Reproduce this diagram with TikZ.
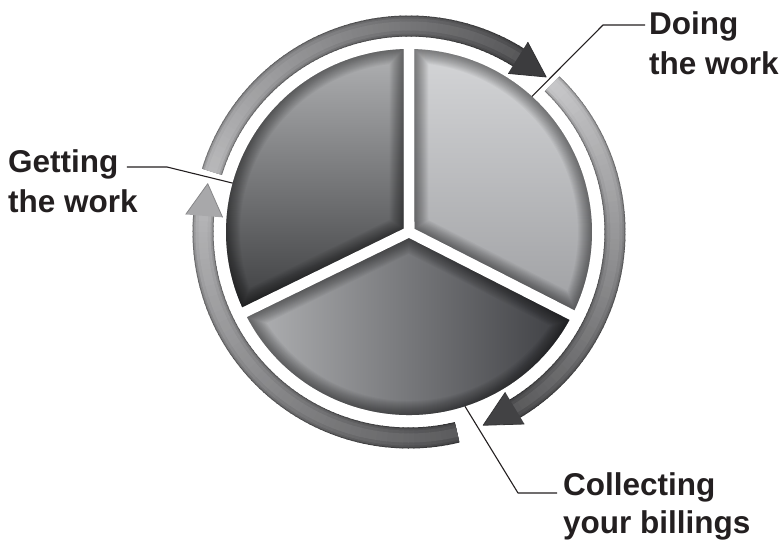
\documentclass[tikz,border=0pt]{standalone}
\usepackage{fontspec}
\setmainfont{Liberation Sans}
\definecolor{txt}{HTML}{231F20}
\definecolor{aS}{HTML}{B2B2B4}
\definecolor{aE}{HTML}{4C4C4E}
\definecolor{aH}{HTML}{3C3C3E}
\definecolor{bS}{HTML}{C2C2C4}
\definecolor{bE}{HTML}{4E4E50}
\definecolor{bH}{HTML}{424244}
\definecolor{cS}{HTML}{505052}
\definecolor{cE}{HTML}{AEAEB0}
\definecolor{cH}{HTML}{A8A8AA}
\definecolor{trT}{HTML}{D6D7D9}
\definecolor{trB}{HTML}{9C9DA0}
\definecolor{tlT}{HTML}{B4B5B7}
\definecolor{tlB}{HTML}{3A3B3D}
\definecolor{boL}{HTML}{B8B9BB}
\definecolor{boM}{HTML}{8A8B8D}
\definecolor{boR}{HTML}{35363A}
\tikzset{
  lbl/.style={font=\fontsize{31.5}{40}\selectfont\bfseries, text=txt, align=left, inner sep=0pt, anchor=base west},
  leader/.style={draw=txt, line width=1.1pt, line join=round},
}
% slice outline: #1 start angle, #2 end angle
\newcommand\slicepath[2]{({(#1+#2)/2}:{5.5/sin((#2-#1)/2)}) -- ({#1+1.72}:183) arc[start angle={#1+1.72}, end angle={#2-1.72}, radius=183] -- cycle}
% ring arrow: #1 start, #2 head base, #3 tip, #4 start colour, #5 end colour, #6 head colour
\newcommand\ringarrow[6]{%
  \pgfmathtruncatemacro\rn{abs(#1-#2)/1.5}%
  \pgfmathtruncatemacro\rnm{\rn-1}%
  \foreach \lw/\lp/\lc in {21/62/black,19.5/78/black,18/90/black,15/100/black,9/93/white}{%
    \foreach \ri in {0,...,\rnm}{%
      \pgfmathsetmacro\angA{#1+(#2-#1)*\ri/\rn}%
      \pgfmathsetmacro\angB{#1+(#2-#1)*(\ri+1)/\rn+((#2<#1)?-0.4:0.4)}%
      \pgfmathtruncatemacro\rt{100*\ri/\rnm}%
      \colorlet{rc}{#5!\rt!#4}%
      \draw[line width=\lw pt, rc!\lp!\lc] (\angA:206) arc[start angle=\angA, end angle=\angB, radius=206];
    }%
  }%
  \fill[#6] (#2:187) -- (#3:207) -- (#2:224) -- cycle;
  \draw[#6!80!black, line width=0.8pt, line join=round] (#2:187) -- (#3:207) -- (#2:224);
}
\newcommand\innershade[2]{%
  \foreach \w in {2,4,...,28}{\draw[black, opacity=0.035, line width=\w pt] \slicepath{#1}{#2};}%
}
\begin{document}
\begin{tikzpicture}[x=1pt,y=1pt]
\useasboundingbox (-409,-310) rectangle (375,232);

% ---- pie slices ----
\begin{scope}
  \clip \slicepath{-27}{90};
  \shade[top color=trT, bottom color=trB] (-5,-95) rectangle (190,190);
  \innershade{-27}{90}
\end{scope}
\begin{scope}
  \clip \slicepath{90}{206};
  \shade[top color=tlT, bottom color=tlB] (-190,-85) rectangle (5,190);
  \innershade{90}{206}
\end{scope}
\begin{scope}
  \clip \slicepath{206}{333};
  \shade[left color=boL, middle color=boM, right color=boR] (-180,-190) rectangle (180,5);
  \innershade{206}{333}
\end{scope}

% ---- ring arrows ----
\ringarrow{163}{58}{48.5}{aS}{aE}{aH}
\ringarrow{46}{-59}{-69}{bS}{bE}{bH}
\ringarrow{-76.5}{-184.5}{-193.5}{cS}{cE}{cH}

% ---- labels (anchor = baseline of last line) ----
\node[lbl] (doing) at (240,158) {Doing\\the work};
\node[lbl] (getting) at (-401,20) {Getting\\the work};
\node[lbl, font=\fontsize{31.5}{38}\selectfont\bfseries] (collect) at (154,-301) {Collecting\\your billings};

\coordinate (pD) at (47.8:183);
\coordinate (kD) at (194,207);
\coordinate (eD) at (236,207);
\coordinate (pG) at (164.5:183);
\coordinate (kG) at (-242,65);
\coordinate (eG) at (-282,65);
\coordinate (pC) at (-72.2:183);
\coordinate (kC) at (109,-261);
\coordinate (eC) at (148,-261);

\draw[leader] (pD) -- (kD) -- (eD);
\draw[leader] (pG) -- (kG) -- (eG);
\draw[leader] (pC) -- (kC) -- (eC);
\end{tikzpicture}
\end{document}
